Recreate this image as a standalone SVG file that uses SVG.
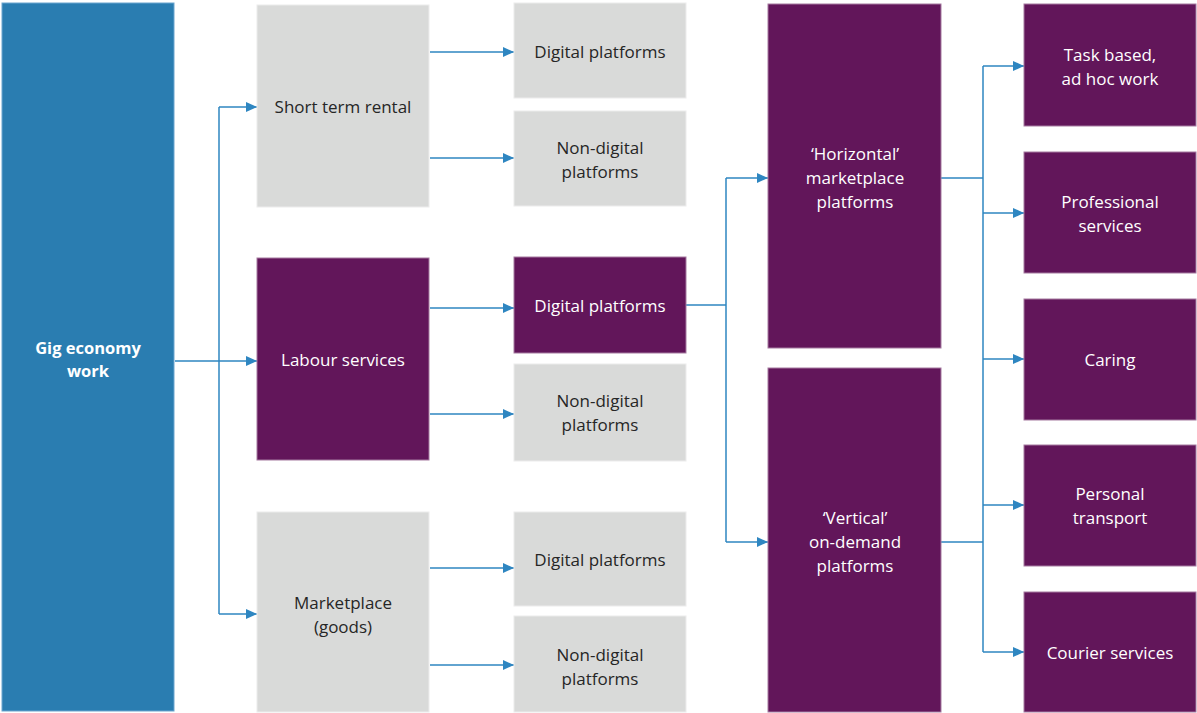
<svg xmlns="http://www.w3.org/2000/svg" width="1197" height="713" viewBox="0 0 1197 713">
<style>
.blue{fill:#2a7db1;stroke:#6aa6cf;stroke-width:1}
.pur{fill:#62165a;stroke:#a57aa0;stroke-width:1}
.gray{fill:#d9dad9;stroke:#ececec;stroke-width:1}
text{font-family:"Open Sans","Liberation Sans",sans-serif;font-size:17px;text-anchor:middle;dominant-baseline:central}
.dk{fill:#262626}
.wt{fill:#ffffff}
.bd{font-weight:bold;font-size:16.5px}
.ln{fill:none;stroke:#2e86c1;stroke-width:1.5}
</style>
<defs>
<marker id="ah" markerUnits="userSpaceOnUse" markerWidth="12" markerHeight="10" refX="11" refY="5" orient="auto">
<path d="M0,0 L11,5 L0,10 Z" fill="#2e86c1"/>
</marker>
</defs>
<g id="connectors">
<path class="ln" d="M175,361 H219"/>
<path class="ln" d="M219,107 V614"/>
<path class="ln" d="M219,107 H257" marker-end="url(#ah)"/>
<path class="ln" d="M219,361 H257" marker-end="url(#ah)"/>
<path class="ln" d="M219,614 H257" marker-end="url(#ah)"/>
<path class="ln" d="M430,52 H514" marker-end="url(#ah)"/>
<path class="ln" d="M430,158 H514" marker-end="url(#ah)"/>
<path class="ln" d="M430,308 H514" marker-end="url(#ah)"/>
<path class="ln" d="M430,414 H514" marker-end="url(#ah)"/>
<path class="ln" d="M430,568 H514" marker-end="url(#ah)"/>
<path class="ln" d="M430,665 H514" marker-end="url(#ah)"/>
<path class="ln" d="M686,305 H726"/>
<path class="ln" d="M726,178 V542"/>
<path class="ln" d="M726,178 H768" marker-end="url(#ah)"/>
<path class="ln" d="M726,542 H768" marker-end="url(#ah)"/>
<path class="ln" d="M941,178 H983"/>
<path class="ln" d="M941,542 H983"/>
<path class="ln" d="M983,66 V652"/>
<path class="ln" d="M983,66 H1024" marker-end="url(#ah)"/>
<path class="ln" d="M983,213 H1024" marker-end="url(#ah)"/>
<path class="ln" d="M983,359 H1024" marker-end="url(#ah)"/>
<path class="ln" d="M983,505 H1024" marker-end="url(#ah)"/>
<path class="ln" d="M983,652 H1024" marker-end="url(#ah)"/>
</g>
<g id="gig"><rect class="blue" x="2" y="3" width="172" height="708"/><text class="wt bd" x="88" y="347">Gig economy</text><text class="wt bd" x="88" y="370">work</text></g>
<g id="short-term"><rect class="gray" x="257" y="5" width="172" height="202"/><text class="dk" x="343" y="106">Short term rental</text></g>
<g id="labour"><rect class="pur" x="257" y="258" width="172" height="202"/><text class="wt" x="343" y="359">Labour services</text></g>
<g id="marketplace"><rect class="gray" x="257" y="512" width="172" height="200"/><text class="dk" x="343" y="602">Marketplace</text><text class="dk" x="343" y="626">(goods)</text></g>
<g id="dig1"><rect class="gray" x="514" y="3" width="172" height="95"/><text class="dk" x="600" y="51">Digital platforms</text></g>
<g id="nondig1"><rect class="gray" x="514" y="111" width="172" height="95"/><text class="dk" x="600" y="147">Non-digital</text><text class="dk" x="600" y="171">platforms</text></g>
<g id="dig2"><rect class="pur" x="514" y="257" width="172" height="96"/><text class="wt" x="600" y="305">Digital platforms</text></g>
<g id="nondig2"><rect class="gray" x="514" y="364" width="172" height="97"/><text class="dk" x="600" y="400">Non-digital</text><text class="dk" x="600" y="424">platforms</text></g>
<g id="dig3"><rect class="gray" x="514" y="512" width="172" height="94"/><text class="dk" x="600" y="559">Digital platforms</text></g>
<g id="nondig3"><rect class="gray" x="514" y="616" width="172" height="96"/><text class="dk" x="600" y="654">Non-digital</text><text class="dk" x="600" y="678">platforms</text></g>
<g id="horizontal"><rect class="pur" x="768" y="4" width="173" height="344"/><text class="wt" x="855" y="153">‘Horizontal’</text><text class="wt" x="855" y="177">marketplace</text><text class="wt" x="855" y="201">platforms</text></g>
<g id="vertical"><rect class="pur" x="768" y="368" width="173" height="344"/><text class="wt" x="855" y="517">‘Vertical’</text><text class="wt" x="855" y="541">on-demand</text><text class="wt" x="855" y="565">platforms</text></g>
<g id="task"><rect class="pur" x="1024" y="4" width="172" height="122"/><text class="wt" x="1110" y="54">Task based,</text><text class="wt" x="1110" y="78">ad hoc work</text></g>
<g id="professional"><rect class="pur" x="1024" y="152" width="172" height="121"/><text class="wt" x="1110" y="201">Professional</text><text class="wt" x="1110" y="225">services</text></g>
<g id="caring"><rect class="pur" x="1024" y="299" width="172" height="121"/><text class="wt" x="1110" y="359">Caring</text></g>
<g id="personal"><rect class="pur" x="1024" y="445" width="172" height="121"/><text class="wt" x="1110" y="493">Personal</text><text class="wt" x="1110" y="517">transport</text></g>
<g id="courier"><rect class="pur" x="1024" y="592" width="172" height="120"/><text class="wt" x="1110" y="652">Courier services</text></g>
</svg>
